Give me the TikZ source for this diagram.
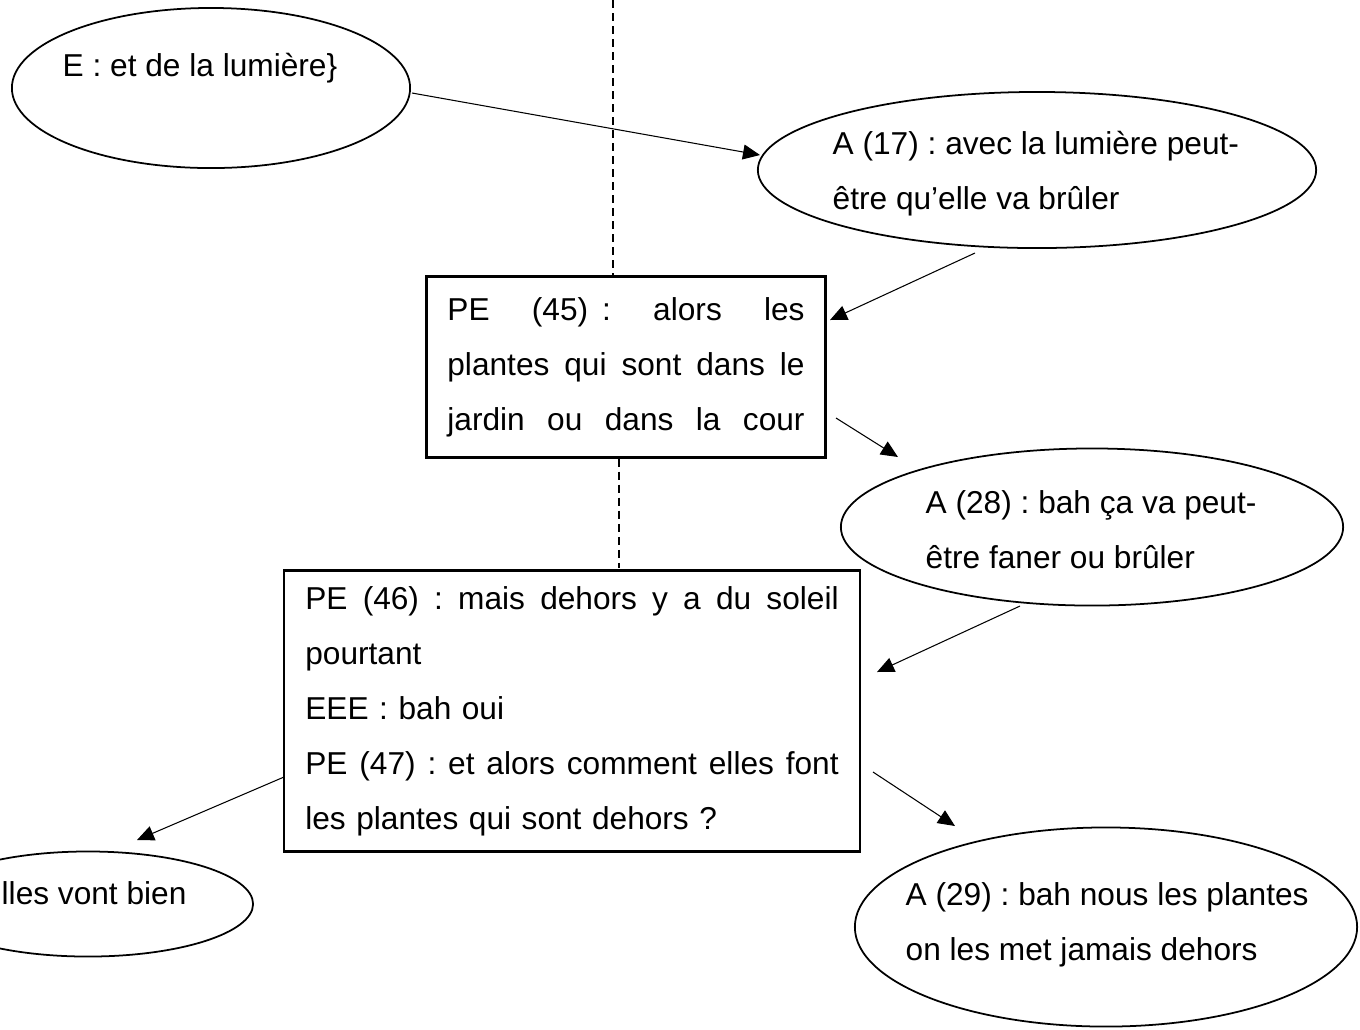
\documentclass[tikz,border=0pt]{standalone}
\usepackage{fontspec}
\setmainfont{Liberation Sans}
\usetikzlibrary{shapes.geometric, arrows.meta}
\tikzstyle{arrow} = [line width=0.3pt,-{Triangle[length=0.17cm,width=0.15cm]}]
\tikzstyle{bulle} = [draw, ellipse, line width=0.5pt, inner sep=0pt]
\tikzstyle{cadre} = [draw, rectangle, line width=0.65pt, inner sep=0pt, align=left, font=\fontsize{9}{15.65}\selectfont\frenchspacing]
\tikzstyle{txt} = [inner sep=0pt, anchor=west, align=left, font=\fontsize{9}{15.65}\selectfont\frenchspacing]
\tikzstyle{tirets} = [line width=0.3pt, dash pattern=on 0.08cm off 0.05cm]
\newcommand{\justifie}[2]{\leavevmode\hbox to #1{\spaceskip=0.278em plus 1fil\relax #2}}

\begin{document}
\begin{tikzpicture}[x=0.01cm, y=-0.01cm]
\useasboundingbox (0,0) rectangle (1360,1029);

% bulles
\node[bulle, minimum width=3.98cm, minimum height=1.6cm] (e) at (211,88) {};
\node[bulle, minimum width=5.58cm, minimum height=1.56cm] (a17) at (1037,170) {};
\node[bulle, minimum width=5.02cm, minimum height=1.57cm] (a28) at (1092,527) {};
\node[bulle, minimum width=5.02cm, minimum height=1.99cm] (a29) at (1106,927) {};
\node[bulle, minimum width=3.30cm, minimum height=1.05cm] (elles) at (88,904) {};

\node[txt] (et) at (62,68) {E : et de la lumière\}};
\node[txt] (a17t) at (832,174) {A (17) : avec la lumière peut-\\être qu’elle va brûler};
\node[txt] (a28t) at (925,530) {A (28) : bah ça va peut-\\être faner ou brûler};
\node[txt] (a29t) at (905,925) {A (29) : bah nous les plantes\\on les met jamais dehors};
\node[txt] (ellest) at (1,893) {lles vont bien};

% cadres
\node[cadre, minimum width=3.99cm, minimum height=1.81cm, text width=3.57cm] (pe45) at (626,367)
{\justifie{3.57cm}{PE (45)\hspace{0.14cm}: alors les}\\
\justifie{3.57cm}{plantes qui sont dans le}\\
\justifie{3.57cm}{jardin ou dans la cour}};
\node[cadre, minimum width=5.75cm, minimum height=2.81cm, text width=5.33cm] (pe46) at (572,711)
{\justifie{5.33cm}{PE (46) : mais dehors y a du soleil}\\
pourtant\\
EEE : bah oui\\
\justifie{5.33cm}{PE (47) : et alors comment elles font}\\
les plantes qui sont dehors ?};

% pointilles
\coordinate (haut) at (613,0);
\coordinate (bas) at (619,568);
\draw[tirets] (haut) -- (haut |- pe45.north);
\draw[tirets] (pe45.south -| bas) -- (bas);

% fleches
\coordinate (d1) at (412,93);   \coordinate (f1) at (760,155);
\coordinate (d2) at (975,253);  \coordinate (f2) at (830,320);
\coordinate (d3) at (836,418);  \coordinate (f3) at (898,457);
\coordinate (d4) at (1020,606); \coordinate (f4) at (877,672);
\coordinate (d5) at (284,777);  \coordinate (f5) at (137,840);
\coordinate (d6) at (873,772);  \coordinate (f6) at (955,826);
\foreach \n in {1,...,6}
\draw[arrow] (d\n) -- (f\n);

\end{tikzpicture}
\end{document}
